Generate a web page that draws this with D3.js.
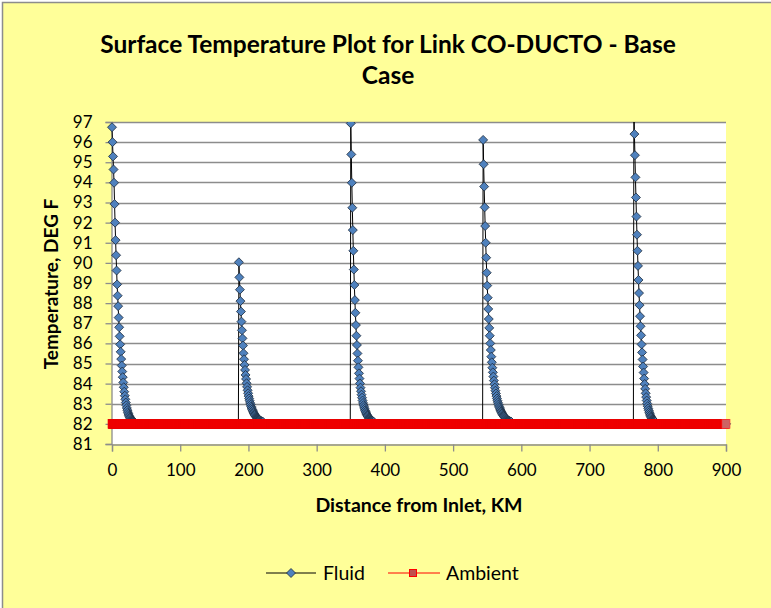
<!DOCTYPE html>
<html>
<head>
<meta charset="utf-8">
<script src="https://cdn.jsdelivr.net/npm/d3@7"></script>
<style>
  body { margin: 0; background: #ffffff; }
  svg { display: block; }
  text { font-family: Lato, "Open Sans", sans-serif; fill: #000; }
</style>
</head>
<body>
<svg width="771" height="608"></svg>
<script>
// chart values
var titleLines = ['Surface Temperature Plot for Link CO-DUCTO - Base', 'Case'];
var xTicks = [0, 100, 200, 300, 400, 500, 600, 700, 800, 900];
var yTicks = [81, 82, 83, 84, 85, 86, 87, 88, 89, 90, 91, 92, 93, 94, 95, 96, 97];

// where each fluid temperature spike starts (km)
var peakKm = [0, 186, 350, 544, 765];
var nodeStepKm = 0.75;

// fluid temperatures after each spike, one value per node
var decay0 = [96.74, 96.0, 95.29, 94.64, 93.98, 92.92, 92.0, 91.13, 90.38, 89.62, 88.93, 88.37, 87.85, 87.28, 86.8, 86.35, 85.95, 85.58, 85.22, 84.9, 84.6, 84.32, 84.06, 83.82, 83.6, 83.4, 83.22, 83.06, 82.92, 82.79, 82.68, 82.58, 82.5, 82.43, 82.37, 82.32, 82.27, 82.23, 82.2, 82.17, 82.14, 82.12, 82.1, 82.08, 82.07, 82.06];
var decay1 = [90.03, 89.28, 88.67, 88.1, 87.58, 87.08, 86.65, 86.25, 85.89, 85.51, 85.21, 84.93, 84.68, 84.43, 84.23, 84.02, 83.84, 83.67, 83.52, 83.38, 83.26, 83.15, 83.04, 82.95, 82.86, 82.79, 82.72, 82.65, 82.59, 82.54, 82.49, 82.45, 82.41, 82.37, 82.34, 82.31, 82.28, 82.26, 82.23, 82.21, 82.19, 82.18, 82.16, 82.15, 82.13, 82.12, 82.11, 82.1];
var decay2 = [96.93, 95.39, 93.98, 92.74, 91.63, 90.6, 89.67, 88.9, 88.15, 87.52, 86.91, 86.38, 85.92, 85.5, 85.14, 84.81, 84.51, 84.25, 84.01, 83.8, 83.62, 83.45, 83.3, 83.16, 83.04, 82.93, 82.84, 82.75, 82.67, 82.6, 82.54, 82.48, 82.43, 82.39, 82.35, 82.31, 82.28, 82.25, 82.22, 82.2, 82.18, 82.16, 82.14, 82.13, 82.11, 82.1];
var decay3 = [96.11, 94.9, 93.79, 92.76, 91.83, 91.0, 90.26, 89.51, 88.87, 88.27, 87.71, 87.21, 86.77, 86.38, 86.0, 85.67, 85.34, 85.06, 84.79, 84.56, 84.35, 84.15, 83.97, 83.8, 83.65, 83.51, 83.38, 83.26, 83.15, 83.05, 82.96, 82.88, 82.81, 82.74, 82.68, 82.62, 82.57, 82.52, 82.47, 82.43, 82.4, 82.36, 82.33, 82.3, 82.28, 82.25, 82.23, 82.21, 82.19, 82.17, 82.16, 82.14, 82.13, 82.12, 82.11, 82.1];
var decay4 = [98.0, 96.4, 95.35, 94.25, 93.25, 92.3, 91.4, 90.6, 89.85, 89.15, 88.5, 87.9, 87.35, 86.85, 86.4, 85.95, 85.55, 85.2, 84.85, 84.55, 84.25, 83.98, 83.74, 83.52, 83.33, 83.16, 83.01, 82.88, 82.77, 82.67, 82.58, 82.5, 82.43, 82.37, 82.32, 82.28, 82.24, 82.21, 82.18, 82.16, 82.14, 82.12, 82.1];
var baseTemp = 82.0; // fluid between spikes, sits under the ambient band

// ambient is flat at 82 over the whole link
var ambientTemp = 82;
var ambientStepKm = 1;
var linkEndKm = 900;

var svg = d3.select('svg');

// chart background + outer border
svg.append('rect')
  .attr('x', 2.5).attr('y', 2.5)
  .attr('width', 800).attr('height', 700)
  .attr('fill', '#ffff99')
  .attr('stroke', '#8c8c8c')
  .attr('stroke-width', 1.5);

var x = d3.scaleLinear().domain([0, 900]).range([112, 726]);
var y = d3.scaleLinear().domain([81, 97]).range([444, 122]);

// plot area
svg.append('rect')
  .attr('x', x(0)).attr('y', y(97))
  .attr('width', x(900) - x(0)).attr('height', y(81) - y(97))
  .attr('fill', '#ffffff');

svg.append('defs').append('clipPath').attr('id', 'plotclip')
  .append('rect')
  .attr('x', x(0) - 6).attr('y', y(97))
  .attr('width', x(900) - x(0) + 12).attr('height', y(81) - y(97));

// horizontal grid
svg.append('g')
  .selectAll('line')
  .data(yTicks.slice(1))
  .enter()
  .append('line')
  .attr('x1', x(0)).attr('x2', x(900))
  .attr('y1', function (d) { return Math.round(y(d)) + 0.5; })
  .attr('y2', function (d) { return Math.round(y(d)) + 0.5; })
  .attr('stroke', '#8c8c8c')
  .attr('stroke-width', 1.3);

// y axis
var yAxis = svg.append('g')
  .attr('transform', 'translate(' + (x(0) - 0.5) + ',0)')
  .call(d3.axisLeft(y).tickValues(yTicks).tickSize(6).tickPadding(13).tickFormat(d3.format('d')));
yAxis.select('.domain').attr('stroke', '#8c8c8c').attr('stroke-width', 1.3);
yAxis.selectAll('.tick line').attr('stroke', '#8c8c8c').attr('stroke-width', 1.3);
yAxis.selectAll('.tick text').style('font-family', 'Lato').style('font-size', '17px').attr('fill', '#000');

// x axis
var xAxis = svg.append('g')
  .attr('transform', 'translate(0,' + (y(81) + 0.5) + ')')
  .call(d3.axisBottom(x).tickValues(xTicks).tickSize(7).tickPadding(12).tickFormat(d3.format('d')));
xAxis.select('.domain').attr('stroke', '#8c8c8c').attr('stroke-width', 1.3);
xAxis.selectAll('.tick line').attr('stroke', '#8c8c8c').attr('stroke-width', 1.3);
xAxis.selectAll('.tick text').style('font-family', 'Lato').style('font-size', '17px').attr('fill', '#000');

// build fluid series from the spikes
var decays = [decay0, decay1, decay2, decay3, decay4];
var fluid = [];
peakKm.forEach(function (p, i) {
  if (p > 0) fluid.push({ km: p - nodeStepKm, t: baseTemp });
  decays[i].forEach(function (t, j) {
    fluid.push({ km: p + j * nodeStepKm, t: t });
  });
  fluid.push({ km: p + decays[i].length * nodeStepKm, t: baseTemp });
});
fluid.push({ km: linkEndKm, t: baseTemp });

var ambient = d3.range(0, linkEndKm + ambientStepKm / 2, ambientStepKm).map(function (k) {
  return { km: k, t: ambientTemp };
});

var plot = svg.append('g').attr('clip-path', 'url(#plotclip)');

var line = d3.line()
  .x(function (d) { return x(d.km); })
  .y(function (d) { return y(d.t); });

plot.append('path')
  .datum(fluid)
  .attr('d', line)
  .attr('fill', 'none')
  .attr('stroke', '#000')
  .attr('stroke-width', 1);

var diamond = 'M0,-4.5L4.5,0L0,4.5L-4.5,0Z';
plot.append('g')
  .selectAll('path')
  .data(fluid)
  .enter()
  .append('path')
  .attr('d', diamond)
  .attr('transform', function (d) { return 'translate(' + x(d.km) + ',' + y(d.t) + ')'; })
  .attr('fill', '#4f81bd')
  .attr('stroke', '#1c2a3a')
  .attr('stroke-width', 0.8);

// ambient series on top
plot.append('path')
  .datum(ambient)
  .attr('d', line)
  .attr('fill', 'none')
  .attr('stroke', '#ff0000')
  .attr('stroke-width', 1);

plot.append('g')
  .selectAll('rect')
  .data(ambient)
  .enter()
  .append('rect')
  .attr('x', function (d) { return x(d.km) - 4; })
  .attr('y', function (d) { return y(d.t) - 4.5; })
  .attr('width', 8)
  .attr('height', 9)
  .attr('fill', function (d, i) { return i === ambient.length - 1 ? '#cd6464' : '#ff0000'; })
  .attr('stroke', function (d, i) { return i === ambient.length - 1 ? '#ff3030' : '#e60000'; })
  .attr('stroke-width', 0.6);

// title
svg.append('g')
  .selectAll('text')
  .data(titleLines)
  .enter()
  .append('text')
  .attr('x', 388)
  .attr('y', function (d, i) { return 53 + i * 31; })
  .attr('text-anchor', 'middle')
  .style('font-size', '24.5px')
  .style('font-weight', 'bold')
  .text(function (d) { return d; });

// axis titles
svg.append('text')
  .attr('transform', 'translate(58,284) rotate(-90)')
  .attr('text-anchor', 'middle')
  .style('font-size', '19px')
  .style('font-weight', 'bold')
  .text('Temperature, DEG F');

svg.append('text')
  .attr('x', 419)
  .attr('y', 512)
  .attr('text-anchor', 'middle')
  .style('font-size', '19.5px')
  .style('font-weight', 'bold')
  .text('Distance from Inlet, KM');

// legend
var legend = svg.append('g').attr('transform', 'translate(0,573)');
legend.append('line').attr('x1', 266).attr('x2', 316).attr('y1', 0).attr('y2', 0)
  .attr('stroke', '#000').attr('stroke-width', 1);
legend.append('path').attr('d', diamond).attr('transform', 'translate(291,0)')
  .attr('fill', '#4f81bd').attr('stroke', '#1c2a3a').attr('stroke-width', 0.8);
legend.append('text').attr('x', 323).attr('y', 6.5).style('font-size', '19.5px').text('Fluid');

legend.append('line').attr('x1', 388).attr('x2', 440).attr('y1', 0).attr('y2', 0)
  .attr('stroke', '#ff0000').attr('stroke-width', 1);
legend.append('rect').attr('x', 409.5).attr('y', -3.5).attr('width', 7).attr('height', 7)
  .attr('fill', '#c0504d').attr('stroke', '#ff0000').attr('stroke-width', 1);
legend.append('text').attr('x', 446).attr('y', 6.5).style('font-size', '19.5px').text('Ambient');
</script>
</body>
</html>
